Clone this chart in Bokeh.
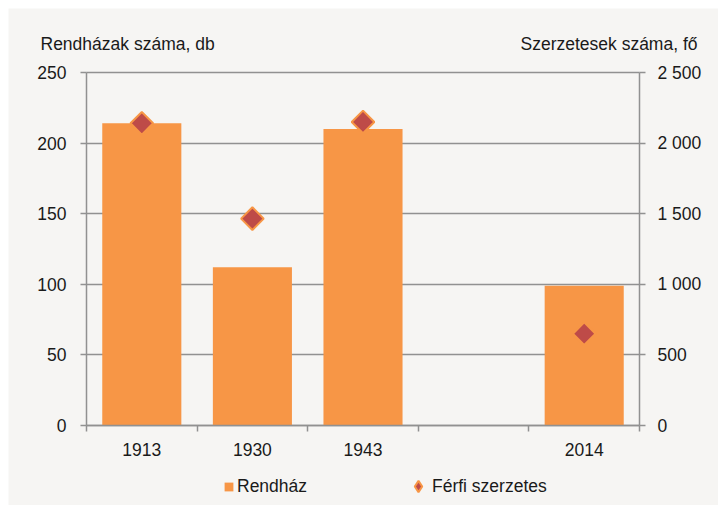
import math
from bokeh.plotting import figure
from bokeh.models import (Range1d, LinearAxis, FixedTicker, Legend, LegendItem, Spacer,
                          Label, Grid)
from bokeh.layouts import column, row
from bokeh.embed import file_html
from bokeh.resources import INLINE

# ---- data ----
years = ["1913", "1930", "1943", "", "2014"]
rendhaz = [214, 112, 210, None, 99]           # Rendházak száma, db
szerzetes = [2140, 1465, 2150, None, 650]     # Szerzetesek száma, fő
left_ticks = [0, 50, 100, 150, 200, 250]
right_ticks = [0, 500, 1000, 1500, 2000, 2500]
right_tick_labels = ["0", "500", "1 000", "1 500", "2 000", "2 500"]
left_title = "Rendházak száma, db"
right_title = "Szerzetesek száma, fő"
bar_name = "Rendház"
point_name = "Férfi szerzetes"

BG = "#F6F5F3"
ORANGE = "#F79646"
RED = "#BE4B48"
GRID = "#919191"
FONT = "Liberation Sans"
FS = "17.5px"
TXT = "#1a1a1a"

# ---- geometry (pixels inside the 710x497 figure) ----
W, H = 710, 497
L, R, T, B = 78, 79, 64, 80
n = len(years)
LMAX, RMAX = left_ticks[-1], right_ticks[-1]
ux = (W - L - R) / n
uy = (H - T - B) / LMAX
x0, x1 = -L / ux, n + R / ux
y0, y1 = -B / uy, LMAX + T / uy
k = RMAX / LMAX


def dx(px):
    return x0 + px / ux


def dy(py):
    return y1 - py / uy


centers = [i + 0.5 for i in range(n)]
bx = [c for c, v in zip(centers, rendhaz) if v is not None]
bt = [v for v in rendhaz if v is not None]
px = [c for c, v in zip(centers, szerzetes) if v is not None]
py = [v for v in szerzetes if v is not None]

p = figure(width=W, height=H, output_backend="svg", toolbar_location=None,
           x_range=Range1d(x0, x1), y_range=Range1d(y0, y1),
           background_fill_color=BG, border_fill_color=BG,
           min_border=0, min_border_left=0, min_border_right=0,
           min_border_top=0, min_border_bottom=0)
p.outline_line_color = None
p.extra_y_ranges = {"sz": Range1d(y0 * k, y1 * k)}

bars = p.vbar(x=bx, top=bt, width=0.715, bottom=0, fill_color=ORANGE, line_color=None)
pts = p.scatter(x=px, y=py, y_range_name="sz", marker="square", angle=math.pi / 4,
                size=16, fill_color=RED, line_color=ORANGE, line_width=2)
# legend-only glyph (diamond shape in the legend; draws nothing in the plot)
pts_key = p.scatter(x=[float("nan")], y=[float("nan")], y_range_name="sz", marker="diamond",
                    size=12, fill_color=RED, line_color=ORANGE, line_width=2)

# x axis
xa = p.xaxis[0]
xa.fixed_location = 0
xa.bounds = (0, n)
xa.ticker = FixedTicker(ticks=[c for c, y in zip(centers, years) if y],
                        minor_ticks=list(range(n + 1)))
xa.major_label_overrides = {c: y for c, y in zip(centers, years) if y}
xa.major_tick_out = 0
xa.major_tick_in = 0
xa.minor_tick_out = 6
xa.minor_tick_in = 0
xa.minor_tick_line_color = GRID
xa.minor_tick_line_width = 1.5
xa.axis_line_color = GRID
xa.axis_line_width = 1.5
xa.major_label_standoff = 11

# left axis
ya = p.yaxis[0]
ya.fixed_location = 0
ya.bounds = (0, LMAX)
ya.ticker = FixedTicker(ticks=left_ticks)
ya.minor_tick_line_color = None
ya.major_tick_out = 6
ya.major_tick_in = 0
ya.major_tick_line_color = GRID
ya.major_tick_line_width = 1.5
ya.axis_line_color = GRID
ya.axis_line_width = 1.5
ya.major_label_standoff = 14

# right axis
ra = LinearAxis(y_range_name="sz", ticker=FixedTicker(ticks=right_ticks),
                fixed_location=n, bounds=(0, RMAX))
ra.major_label_overrides = {t: l for t, l in zip(right_ticks, right_tick_labels)}
ra.minor_tick_line_color = None
ra.major_tick_out = 6
ra.major_tick_in = 0
ra.major_tick_line_color = GRID
ra.major_tick_line_width = 1.5
ra.axis_line_color = GRID
ra.axis_line_width = 1.5
ra.major_label_standoff = 12
p.add_layout(ra, "right")

for ax in [xa, ya, ra]:
    ax.major_label_text_font = FONT
    ax.major_label_text_font_size = FS
    ax.major_label_text_color = TXT

p.xgrid.visible = False
yg = p.ygrid[0]
yg.ticker = FixedTicker(ticks=left_ticks)
yg.grid_line_color = GRID
yg.grid_line_width = 1.5
if "cross_bounds" in Grid.properties():
    yg.cross_bounds = (0, n)
else:
    yg.visible = False
    p.segment(x0=[0] * len(left_ticks), x1=[n] * len(left_ticks), y0=left_ticks, y1=left_ticks,
              line_color=GRID, line_width=1.5, level="underlay")

# axis titles
p.add_layout(Label(x=dx(32), y=dy(35), text=left_title, text_align="left", text_baseline="middle",
                   text_font=FONT, text_font_size=FS, text_color=TXT))
p.add_layout(Label(x=dx(689), y=dy(35), text=right_title, text_align="right", text_baseline="middle",
                   text_font=FONT, text_font_size=FS, text_color=TXT))

# legend
common = dict(orientation="horizontal", background_fill_alpha=0, border_line_color=None,
              label_text_font=FONT, label_text_font_size=FS, label_text_color=TXT,
              label_height=20, padding=0, margin=0, spacing=0)
leg1 = Legend(items=[LegendItem(label=bar_name, renderers=[bars])], location=(215, 8),
              glyph_width=11, glyph_height=11, label_standoff=3, **common)
leg2 = Legend(items=[LegendItem(label=point_name, renderers=[pts_key])], location=(396, 5),
              glyph_width=28, glyph_height=28, label_standoff=-3, **common)
p.add_layout(leg1, "center")
p.add_layout(leg2, "center")

layout = column(Spacer(height=8, width=718),
                row(Spacer(width=8, height=H), p, spacing=0),
                spacing=0)

open("out.html", "w").write(file_html(layout, INLINE))
